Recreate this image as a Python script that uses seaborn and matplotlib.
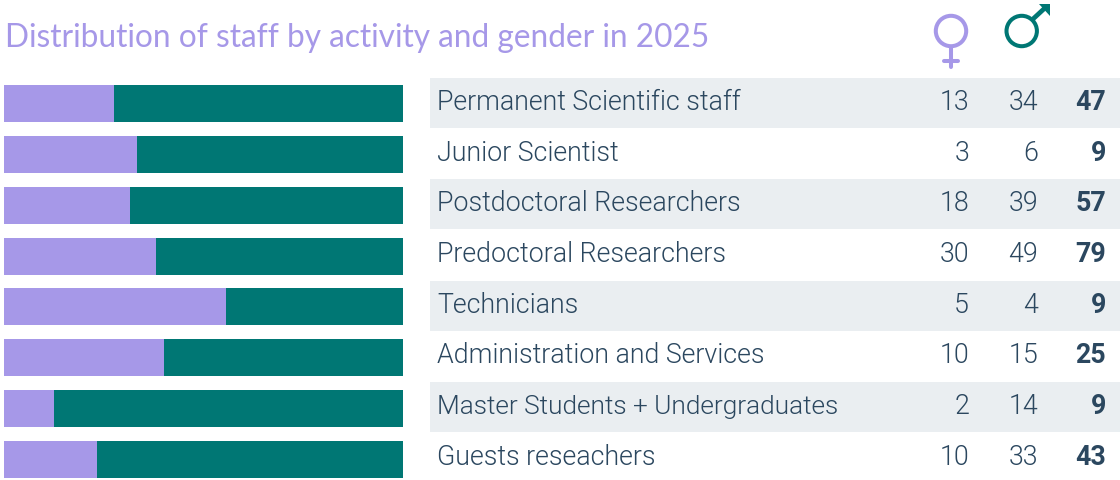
import matplotlib
matplotlib.use("Agg")
import matplotlib.pyplot as plt
from matplotlib.patches import Circle, Polygon
import pandas as pd
import seaborn as sns

categories = ["Permanent Scientific staff", "Junior Scientist", "Postdoctoral Researchers",
              "Predoctoral Researchers", "Technicians", "Administration and Services",
              "Master Students + Undergraduates", "Guests reseachers"]
women = [13, 3, 18, 30, 5, 10, 2, 10]
men = [34, 6, 39, 49, 4, 15, 14, 33]
totals = [47, 9, 57, 79, 9, 25, 9, 43]
title = "Distribution of staff by activity and gender in 2025"

PURPLE = "#A698E8"
TEAL = "#007774"
INK = "#2B475F"
BAND = "#EAEEF1"
W, H = 1120, 480

sns.set_theme(style="white")
plt.rcParams["font.family"] = ["Roboto", "DejaVu Sans"]

df = pd.DataFrame({"cat": categories, "women": women, "men": men})
df["f"] = df.women / (df.women + df.men)
df["all"] = 1.0

fig = plt.figure(figsize=(W / 100, H / 100), dpi=100)


def row_axes(x0, x1, top, pitch):
    height = pitch * 8
    return fig.add_axes([x0 / W, 1 - (top + height) / H, (x1 - x0) / W, height / H])


ax = row_axes(4, 403, 78.07, 50.86)
sns.barplot(df, y="cat", x="all", color=TEAL, width=0.727, saturation=1, linewidth=0, ax=ax)
sns.barplot(df, y="cat", x="f", color=PURPLE, width=0.727, saturation=1, linewidth=0, ax=ax)
ax.set_xlim(0, 1)
ax.set_ylim(7.5, -0.5)
ax.axis("off")

tb = row_axes(430, 1120, 77.7, 50.65)
tb.set_xlim(430, 1120)
tb.set_ylim(7.5, -0.5)
tb.axis("off")
for i, c in enumerate(categories):
    if i % 2 == 0:
        tb.axhspan(i - 0.495, i + 0.495, color=BAND, lw=0)
    y = i + 0.14
    label_size = 18.9 if len(c) > 30 else 19.3
    tb.text(437, y, c, fontsize=label_size, color=INK, weight=300, va="baseline", ha="left")
    tb.text(969, y, str(women[i]), fontsize=19.3, color=INK, weight=300, va="baseline", ha="right")
    tb.text(1038, y, str(men[i]), fontsize=19.3, color=INK, weight=300, va="baseline", ha="right")
    tb.text(1106, y, str(totals[i]), fontsize=19.3, color=INK, weight="bold", va="baseline", ha="right")

ov = fig.add_axes([0, 0, 1, 1], facecolor="none")
ov.set_xlim(0, W)
ov.set_ylim(H, 0)
ov.axis("off")
ov.text(5, 47, title, fontsize=22.8, color=PURPLE, weight="normal", family="Lato", va="baseline", ha="left")
ov.add_patch(Circle((951, 31), 15.2, fill=False, ec=PURPLE, lw=2.9))
ov.plot([951, 951], [47, 67], color=PURPLE, lw=2.9, solid_capstyle="round")
ov.plot([944, 958], [60.5, 60.5], color=PURPLE, lw=2.9, solid_capstyle="round")
ov.add_patch(Circle((1021.7, 31), 15.2, fill=False, ec=TEAL, lw=2.9))
ov.plot([1033, 1046], [19, 7], color=TEAL, lw=3.4, solid_capstyle="butt")
ov.add_patch(Polygon([(1038.5, 3.5), (1050, 3.5), (1050, 15.5)], closed=True, color=TEAL, lw=0))

fig.savefig("out.png", dpi=100)
